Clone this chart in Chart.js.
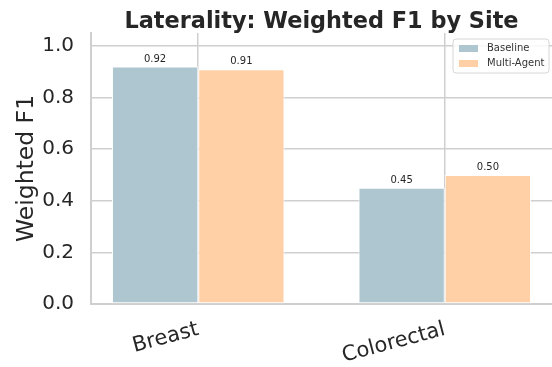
<!DOCTYPE html>
<html>
<head>
<meta charset="utf-8">
<script src="https://cdn.jsdelivr.net/npm/chart.js@4"></script>
<style>
  html, body { margin: 0; padding: 0; background: #ffffff; overflow: hidden; }
  canvas { display: block; }
</style>
</head>
<body>
<canvas id="chart" width="552" height="367"></canvas>
<script>
// Sites along the x axis and the weighted F1 of each system
const sites = ['Breast', 'Colorectal'];
const baselineF1 = [0.92, 0.45];
const multiAgentF1 = [0.91, 0.50];
const seriesNames = ['Baseline', 'Multi-Agent'];
const yTickValues = [0.0, 0.2, 0.4, 0.6, 0.8, 1.0];

const FONT = "'DejaVu Sans', sans-serif";
const INK = '#262626';
const GRID = '#cfcfcf';

// Title centred over the plotting area
const titlePlugin = {
  id: 'areaTitle',
  afterDraw(chart) {
    const { ctx, chartArea } = chart;
    ctx.save();
    ctx.font = `bold 22.4px ${FONT}`;
    ctx.fillStyle = INK;
    ctx.textAlign = 'center';
    ctx.textBaseline = 'alphabetic';
    ctx.fillText('Laterality: Weighted F1 by Site', (chartArea.left + chartArea.right) / 2, 28);
    ctx.restore();
  }
};

// Value printed above every bar
const valueLabels = {
  id: 'valueLabels',
  afterDatasetsDraw(chart) {
    const { ctx } = chart;
    ctx.save();
    ctx.font = `10px ${FONT}`;
    ctx.fillStyle = INK;
    ctx.textAlign = 'center';
    ctx.textBaseline = 'alphabetic';
    chart.data.datasets.forEach((ds, di) => {
      chart.getDatasetMeta(di).data.forEach((bar, i) => {
        ctx.fillText(ds.data[i].y.toFixed(2), bar.x, bar.y - 5);
      });
    });
    ctx.restore();
  }
};

// Boxed legend in the upper right corner of the plot
const boxLegend = {
  id: 'boxLegend',
  afterDraw(chart) {
    const { ctx, chartArea } = chart;
    const w = 96, h = 34;
    const x0 = chartArea.right - w - 3, y0 = chartArea.top + 6;
    ctx.save();
    ctx.beginPath();
    ctx.roundRect(x0, y0, w, h, 3);
    ctx.fillStyle = 'rgba(255,255,255,0.85)';
    ctx.fill();
    ctx.strokeStyle = '#d6d6d6';
    ctx.lineWidth = 1;
    ctx.stroke();
    ctx.font = `10px ${FONT}`;
    ctx.textAlign = 'left';
    ctx.textBaseline = 'middle';
    chart.data.datasets.forEach((ds, i) => {
      const cy = y0 + 9 + i * 15;
      ctx.fillStyle = ds.backgroundColor;
      ctx.fillRect(x0 + 6, cy - 3, 19, 7);
      ctx.fillStyle = '#333333';
      ctx.fillText(ds.label, x0 + 34, cy);
    });
    ctx.restore();
  }
};

const toPoints = (vals) => vals.map((v, i) => ({ x: i, y: v }));

new Chart(document.getElementById('chart'), {
  type: 'bar',
  data: {
    datasets: [
      {
        label: seriesNames[0],
        data: toPoints(baselineF1),
        backgroundColor: '#aec6cf',
        borderColor: '#ffffff',
        borderWidth: 1,
        borderSkipped: false
      },
      {
        label: seriesNames[1],
        data: toPoints(multiAgentF1),
        backgroundColor: '#ffd0a6',
        borderColor: '#ffffff',
        borderWidth: 1,
        borderSkipped: false
      }
    ]
  },
  options: {
    responsive: false,
    animation: false,
    devicePixelRatio: 1,
    layout: { padding: { top: 33, right: 0, bottom: 0, left: 0 } },
    datasets: { bar: { categoryPercentage: 0.7, barPercentage: 1.0 } },
    plugins: {
      legend: { display: false },
      title: { display: false },
      tooltip: { enabled: false }
    },
    scales: {
      x: {
        type: 'linear',
        min: -0.435,
        max: 1.435,
        offset: false,
        afterBuildTicks(scale) { scale.ticks = sites.map((_, i) => ({ value: i })); },
        afterFit(scale) { scale.height = 63; },
        grid: { color: GRID, lineWidth: 1.5, drawTicks: false, offset: false },
        border: { display: true, color: GRID, width: 2 },
        ticks: {
          callback: (v) => sites[v] ?? '',
          font: { family: FONT, size: 21 },
          color: INK,
          minRotation: 15,
          maxRotation: 15,
          padding: 13,
          autoSkip: false
        }
      },
      y: {
        min: 0,
        max: 1.05,
        afterBuildTicks(scale) { scale.ticks = yTickValues.map(v => ({ value: v })); },
        afterFit(scale) { scale.width = 91; },
        grid: { color: GRID, lineWidth: 1.5, drawTicks: false },
        border: { display: true, color: GRID, width: 2 },
        ticks: {
          callback: (v) => Number(v).toFixed(1),
          font: { family: FONT, size: 20 },
          color: INK,
          padding: 17
        },
        title: {
          display: true,
          text: 'Weighted F1',
          font: { family: FONT, size: 23.5 },
          color: INK,
          padding: { top: 13, bottom: 0 }
        }
      }
    }
  },
  plugins: [titlePlugin, valueLabels, boxLegend]
});
</script>
</body>
</html>
